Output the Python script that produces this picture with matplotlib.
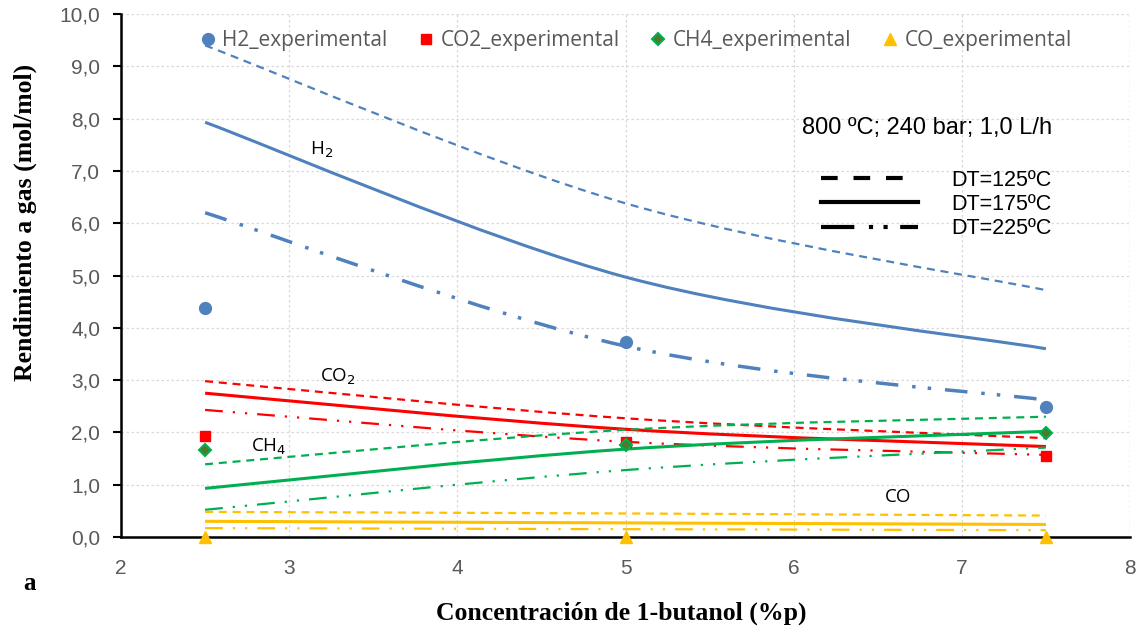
import matplotlib
matplotlib.use("Agg")
import matplotlib.pyplot as plt
import numpy as np
from matplotlib.path import Path
from matplotlib.patches import PathPatch
from matplotlib.lines import Line2D

# 1-butanol concentration (%p)
conc = [2.5, 5.0, 7.5]

# Model yields (mol/mol) at DT = 125, 175, 225 ºC
h2_dt125 = [9.40, 6.38, 4.72]
h2_dt175 = [7.93, 4.97, 3.60]
h2_dt225 = [6.20, 3.65, 2.62]
co2_dt125 = [2.98, 2.27, 1.89]
co2_dt175 = [2.75, 2.06, 1.73]
co2_dt225 = [2.43, 1.82, 1.57]
ch4_dt125 = [1.39, 2.05, 2.30]
ch4_dt175 = [0.93, 1.68, 2.02]
ch4_dt225 = [0.52, 1.28, 1.71]
co_dt125 = [0.48, 0.45, 0.41]
co_dt175 = [0.30, 0.27, 0.24]
co_dt225 = [0.17, 0.15, 0.13]

# Experimental yields
h2_exp = [4.37, 3.72, 2.48]
co2_exp = [1.93, 1.82, 1.55]
ch4_exp = [1.66, 1.75, 1.98]
co_exp = [0.0, 0.0, 0.0]

x_ticks = [2, 3, 4, 5, 6, 7, 8]
y_ticks = [0, 1, 2, 3, 4, 5, 6, 7, 8, 9, 10]

BLUE = "#4F81BD"
RED = "#FF0000"
GREEN = "#00B050"
GOLD = "#FFC000"
GRAY = "#595959"

fig = plt.figure(figsize=(11.47, 6.32), dpi=100)
ax = fig.add_axes([121 / 1147, 1 - 537 / 632, (1130 - 121) / 1147, (537 - 14) / 632])


def smooth_path(xs, ys):
    """Cubic Bezier path through the points (Catmull-Rom style smoothing)."""
    pts = np.column_stack([xs, ys]).astype(float)
    ext = np.vstack([pts[0], pts, pts[-1]])
    verts = [pts[0]]
    codes = [Path.MOVETO]
    for i in range(len(pts) - 1):
        p0, p1, p2, p3 = ext[i], ext[i + 1], ext[i + 2], ext[i + 3]
        c1 = p1 + (p2 - p0) / 6.0
        c2 = p2 - (p3 - p1) / 6.0
        verts += [c1, c2, p2]
        codes += [Path.CURVE4] * 3
    return Path(verts, codes)


def draw_curve(ys, color, lw, ls):
    patch = PathPatch(smooth_path(conc, ys), facecolor="none", edgecolor=color,
                      lw=lw, linestyle=ls, capstyle="butt", joinstyle="round", zorder=3)
    ax.add_patch(patch)


dash = (0, (3.6, 2.6))
dash_dd_thick = (0, (6.5, 4.0, 1.0, 3.5, 1.0, 4.0))
dash_dd = (0, (8.0, 4.5, 1.0, 4.5, 1.0, 4.5))

draw_curve(h2_dt125, BLUE, 1.6, dash)
draw_curve(h2_dt175, BLUE, 2.2, "solid")
draw_curve(h2_dt225, BLUE, 2.5, dash_dd_thick)
draw_curve(co2_dt125, RED, 1.6, dash)
draw_curve(co2_dt175, RED, 2.2, "solid")
draw_curve(co2_dt225, RED, 1.6, dash_dd)
draw_curve(ch4_dt125, GREEN, 1.6, dash)
draw_curve(ch4_dt175, GREEN, 2.2, "solid")
draw_curve(ch4_dt225, GREEN, 1.6, dash_dd)
draw_curve(co_dt125, GOLD, 1.6, dash)
draw_curve(co_dt175, GOLD, 2.2, "solid")
draw_curve(co_dt225, GOLD, 1.6, dash_dd)

# Experimental points
h_h2, = ax.plot(conc, h2_exp, "o", color=BLUE, ms=8.5, ls="none", zorder=5, clip_on=False,
                label="H2_experimental")
h_co2, = ax.plot(conc, co2_exp, "s", color=RED, ms=7.5, ls="none", zorder=5, clip_on=False,
                 label="CO2_experimental")
h_ch4, = ax.plot(conc, ch4_exp, "D", mfc="#4E7A2C", mec=GREEN, mew=1.5, ms=6.5, ls="none",
                 zorder=5, clip_on=False, label="CH4_experimental")
h_co, = ax.plot(conc, co_exp, "^", color=GOLD, ms=9, ls="none", zorder=5, clip_on=False,
                label="CO_experimental")

ax.set_xlim(2, 8)
ax.set_ylim(0, 10)
ax.set_xticks(x_ticks)
ax.set_yticks(y_ticks)
ax.set_xticklabels([str(v) for v in x_ticks])
ax.set_yticklabels([f"{v:.1f}".replace(".", ",") for v in y_ticks])
ax.tick_params(axis="both", labelsize=15, labelcolor=GRAY, labelfontfamily="Liberation Sans")
ax.tick_params(axis="y", length=6, width=1.5, color="black", pad=9)
ax.tick_params(axis="x", length=0, pad=16)
ax.grid(True, color="#D9D9D9", ls=(0, (2, 2)), lw=0.9)
ax.set_axisbelow(True)
for s in ["top", "right"]:
    ax.spines[s].set_visible(False)
ax.spines["left"].set_linewidth(1.8)
ax.spines["bottom"].set_linewidth(1.8)
ax.axvline(8, color="#D9D9D9", ls=(0, (2, 2)), lw=0.9, zorder=0)

serif = "Liberation Serif"
fig.text(25 / 1147, 1 - 222 / 632, "Rendimiento a gas (mol/mol)", family=serif, weight="bold",
         fontsize=18.5, ha="center", va="center", rotation=90)
fig.text(621 / 1147, 1 - 613 / 632, "Concentración de 1-butanol (%p)", family=serif,
         weight="bold", fontsize=18.5, ha="center", va="center")
fig.text(30 / 1147, 1 - 583 / 632, "a", family=serif, weight="bold", fontsize=18,
         ha="center", va="center")

# Species labels
lab_kw = dict(family="Open Sans", fontsize=13.5, color="black", ha="center", va="center", zorder=6)
ax.text(3.19, 7.40, r"H$_2$", **lab_kw)
ax.text(3.29, 3.06, r"CO$_2$", **lab_kw)
ax.text(2.88, 1.72, r"CH$_4$", **lab_kw)
ax.text(6.62, 0.77, "CO", **lab_kw)

# Experimental legend along the top
leg1 = ax.legend(handles=[h_h2, h_co2, h_ch4, h_co], loc="upper center", ncol=4,
                 bbox_to_anchor=(0.511, 1.005), frameon=False,
                 prop={"family": "Open Sans", "size": 15}, labelcolor=GRAY,
                 handlelength=0.6, handletextpad=0.4, columnspacing=1.55, markerscale=1.0)
ax.add_artist(leg1)

# Operating conditions and DT line-style key
ax.text(6.05, 7.82, "800 ºC; 240 bar; 1,0 L/h", family="Liberation Sans", fontsize=17,
        ha="left", va="center", color="black")
style_handles = [
    Line2D([], [], color="black", lw=3, ls=(0, (4.0, 3.8))),
    Line2D([], [], color="black", lw=3, ls="solid"),
    Line2D([], [], color="black", lw=3, ls=(0, (8.0, 3.5, 1.0, 2.5, 1.0, 3.0))),
]
leg2 = ax.legend(handles=style_handles, labels=["DT=125ºC", "DT=175ºC", "DT=225ºC"],
                 loc="upper left", bbox_to_anchor=(689 / 1009, 1 - 145 / 523), frameon=False,
                 prop={"family": "Liberation Sans", "size": 15.5}, handlelength=4.5,
                 handletextpad=1.55, labelspacing=0.15, borderpad=0)

fig.savefig("out.png", dpi=100)
